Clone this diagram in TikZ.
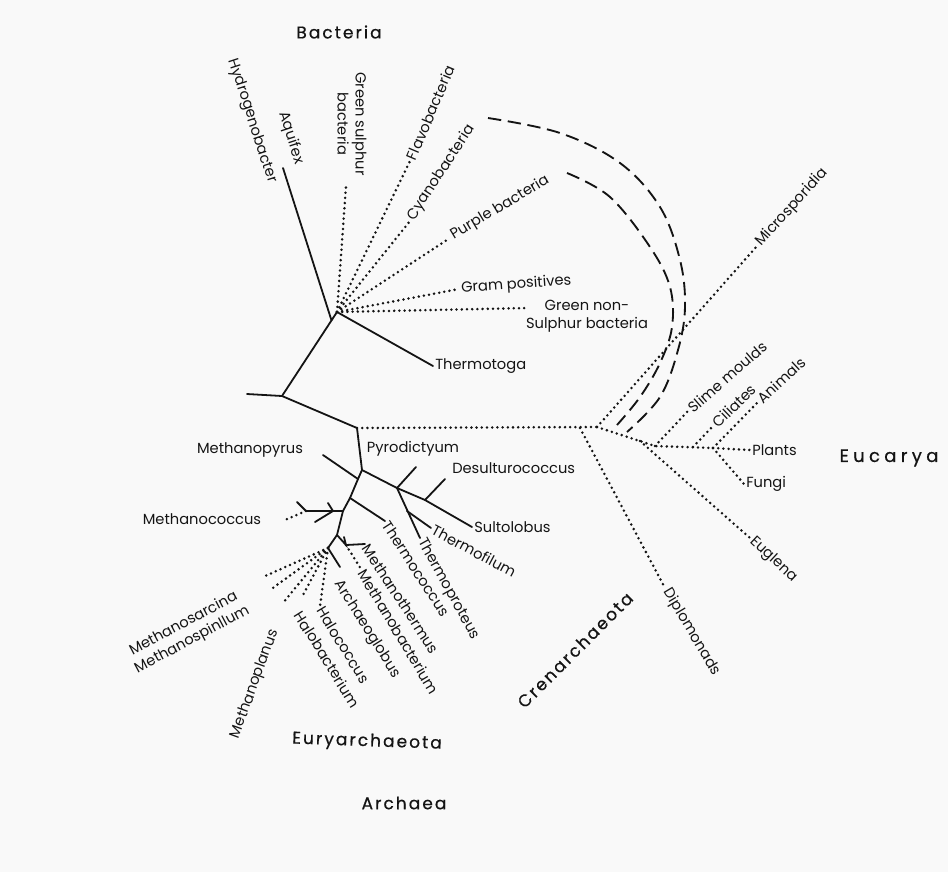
\documentclass[tikz,border=0pt]{standalone}
\usepackage{fontspec}
\setmainfont{Poppins}
\newfontfamily\labfont{Poppins}
\newfontfamily\bigfont{Poppins}[LetterSpace=12,FakeBold=0.6]
\newfontfamily\eucfont{Poppins}[LetterSpace=24,FakeBold=0.6]
\usetikzlibrary{calc}
\definecolor{paper}{RGB}{249,249,249}
\definecolor{ink}{RGB}{20,20,20}
\tikzset{
  lab/.style={font=\labfont\fontsize{11}{13.5}\selectfont, inner sep=1.5pt, text=ink},
  big/.style={font=\bigfont\fontsize{12.75}{15}\selectfont, inner sep=0pt, text=ink},
  sol/.style={draw=ink, line width=1.35pt, line cap=round},
  dot/.style={draw=ink, line width=2.1pt, line cap=round, dash pattern=on 0pt off 3.9pt},
  dsh/.style={draw=ink, line width=1.4pt, dash pattern=on 10pt off 5pt}
}
\begin{document}
\begin{tikzpicture}[x=0.75pt,y=-0.75pt]
\useasboundingbox[fill=paper] (0,0) rectangle (948,872);

% ---------- junctions ----------
\coordinate (R0) at (247,394);
\coordinate (A) at (282,396);
\coordinate (B) at (337,312);
\coordinate (P) at (357,428);
\coordinate (Q) at (362,470);
\coordinate (S) at (397,488);
\coordinate (D1) at (425,500);
\coordinate (T1) at (407,511);
\coordinate (M1) at (358,479);
\coordinate (K1) at (350,498);
\coordinate (K2) at (343,511);
\coordinate (J) at (333,511);
\coordinate (Ja) at (328,503);
\coordinate (Jb) at (315,522);
\coordinate (MC) at (306,511);
\coordinate (MCa) at (297,502);
\coordinate (N1) at (337,535);
\coordinate (N2) at (346,545);
\coordinate (N2a) at (344,537);
\coordinate (N3) at (328,548);
\coordinate (E1) at (597,427);
\coordinate (Di0) at (580,428);
\coordinate (Eu0) at (640,441);
\coordinate (E2) at (655,446);
\coordinate (Ci0) at (693,447);
\coordinate (E3) at (713,448);

% ---------- Bacteria ----------
\node[lab, rotate=-72] (hydro) at (252,121) {Hydrogenobacter};
\node[lab, rotate=-72] (aquifex) at (291,138) {Aquifex};
\coordinate (aqT) at (283,168);
\node[lab, rotate=-90, align=center] (gsb) at (352,124) {Green sulphur\\bacteria};
\coordinate (gsT) at (346,186);
\node[lab, rotate=67, anchor=west] (flavo) at (410,161) {Flavobacteria};
\node[lab, rotate=57, anchor=west] (cyano) at (410,221) {Cyanobacteria};
\node[lab, rotate=31, anchor=west] (purple) at (450,238) {Purple bacteria};
\node[lab, rotate=4, anchor=west] (gram) at (459,289) {Gram positives};
\node[lab, align=center] (gns) at (587,316) {Green non-\\Sulphur bacteria};
\coordinate (gnsT) at (528,308);
\node[lab, anchor=west] (thermotoga) at (433,366) {Thermotoga};

\draw[sol] (R0) -- (A) -- (B) -- (thermotoga.west);
\draw[sol] (aqT) -- ($(A)!0.9!(B)$);
\draw[dot] (B) -- (gsT);
\draw[dot] (B) -- (flavo.west);
\draw[dot] (B) -- (cyano.west);
\draw[dot] (B) -- (purple.west);
\draw[dot] (B) -- (gram.west);
\draw[dot] (B) -- (gnsT);

% dashed endosymbiosis arcs
\draw[dsh] plot[smooth, tension=0.6] coordinates {(488,118) (560,133) (620,163) (660,207) (680,260) (685,307) (678,350) (660,397) (627,432)};
\draw[dsh] plot[smooth, tension=0.6] coordinates {(567,173) (610,197) (650,247) (670,287) (672,327) (660,363) (640,397) (617,425)};

% ---------- Archaea ----------
\draw[sol] (A) -- (P) -- (Q) -- (M1) -- (K1) -- (K2) -- (N1) -- (N3);
\node[lab] (pyro) at (413,449) {Pyrodictyum};
\node[lab] (mpyrus) at (250,450) {Methanopyrus};
\coordinate (mpT) at (323,455);
\draw[sol] (M1) -- (mpT);

% Crenarchaeota
\node[lab, anchor=west] (desulf) at (450,468) {Desulturococcus};
\coordinate (dsT) at (445,479);
\coordinate (sT) at (416,467);
\node[lab, anchor=west] (sulto) at (472,527) {Sultolobus};
\draw[sol] (Q) -- (S) -- (D1) -- (sulto.west);
\draw[sol] (D1) -- (dsT);
\draw[sol] (S) -- (sT);
\node[lab, rotate=-61, anchor=west] (tproteus) at (420,538) {Thermoproteus};
\draw[sol] (S) -- (tproteus.west);
\node[lab, rotate=-28, anchor=west] (tfilum) at (431,528) {Thermofilum};
\draw[sol] (T1) -- (tfilum.west);

% Euryarchaeota
\node[lab, rotate=-57, anchor=west] (tcoccus) at (385,521) {Thermococcus};
\draw[sol] (K1) -- (tcoccus.west);
\node[lab] (mcoccus) at (202,519) {Methanococcus};
\coordinate (mcT) at (285,520);
\draw[sol] (K2) -- (MC);
\draw[sol] (Ja) -- (J) -- (Jb);
\draw[sol] (MC) -- (MCa);
\draw[dot] (MC) -- (mcT);

\draw[sol] (N1) -- (N2) -- (N2a);
\node[lab, rotate=-57, anchor=west] (mthermus) at (365,544) {Methanothermus};
\draw[sol] (N2) -- (mthermus.west);
\node[lab, rotate=-59, anchor=west] (mbact) at (361,569) {Methanobacterium};
\draw[dot] (N2) -- (mbact.west);

\node[lab, rotate=-58, anchor=west] (archaeo) at (336,580) {Archaeoglobus};
\coordinate (arT) at (340,567);
\draw[sol] (N3) -- (arT);
\node[lab, rotate=-59, anchor=west] (halococ) at (320,606) {Halococcus};
\draw[dot] (N3) -- (halococ.west);
\node[lab, rotate=-58, anchor=west] (halobact) at (297,611) {Halobacterium};
\coordinate (hbT) at (303,595);
\draw[dot] (N3) -- (hbT);
\node[lab, rotate=70] (mplanus) at (255,684) {Methanoplanus};
\coordinate (mplT) at (283,603);
\draw[dot] (N3) -- (mplT);
\node[lab, rotate=28, align=center] (msarc) at (188,632) {Methanosarcina\\Methanospinllum};
\coordinate (msT1) at (263,577);
\coordinate (msT2) at (270,590);
\draw[dot] (N3) -- (msT1);
\draw[dot] (N3) -- (msT2);

% ---------- Eucarya ----------
\draw[dot] (P) -- (E1);
\node[lab, rotate=48, anchor=west] (micro) at (757,246) {Microsporidia};
\draw[dot] (E1) -- (micro.west);
\node[lab, rotate=-59, anchor=west] (diplo) at (665,588) {Diplomonads};
\draw[dot] (Di0) -- (diplo.west);
\draw[dot] (E1) -- (E2) -- (E3);
\node[lab, rotate=-43, anchor=west] (euglena) at (750,538) {Euglena};
\draw[dot] (Eu0) -- (euglena.west);
\node[lab, rotate=41, anchor=west] (slime) at (688,411) {Slime moulds};
\draw[dot] (E2) -- (slime.west);
\node[lab, rotate=44, anchor=west] (ciliates) at (713,426) {Ciliates};
\draw[dot] (Ci0) -- (ciliates.west);
\node[lab, rotate=43, anchor=west] (animals) at (758,402) {Animals};
\draw[dot] (E3) -- (animals.west);
\node[lab, anchor=west] (plants) at (750,450) {Plants};
\draw[dot] (E3) -- (plants.west);
\node[lab, anchor=west] (fungi) at (744,484) {Fungi};
\draw[dot] (E3) -- (fungi.west);

% ---------- group names ----------
\node[big] (bact) at (339,32) {Bacteria};
\node[big, font=\eucfont\fontsize{13.5}{16}\selectfont] (euc) at (889,458) {Eucarya};
\node[big, rotate=45] (cren) at (575,650) {Crenarchaeota};
\node[big, rotate=-2] (eury) at (367,742) {Euryarchaeota};
\node[big] (arch) at (404,803) {Archaea};
\end{tikzpicture}
\end{document}
